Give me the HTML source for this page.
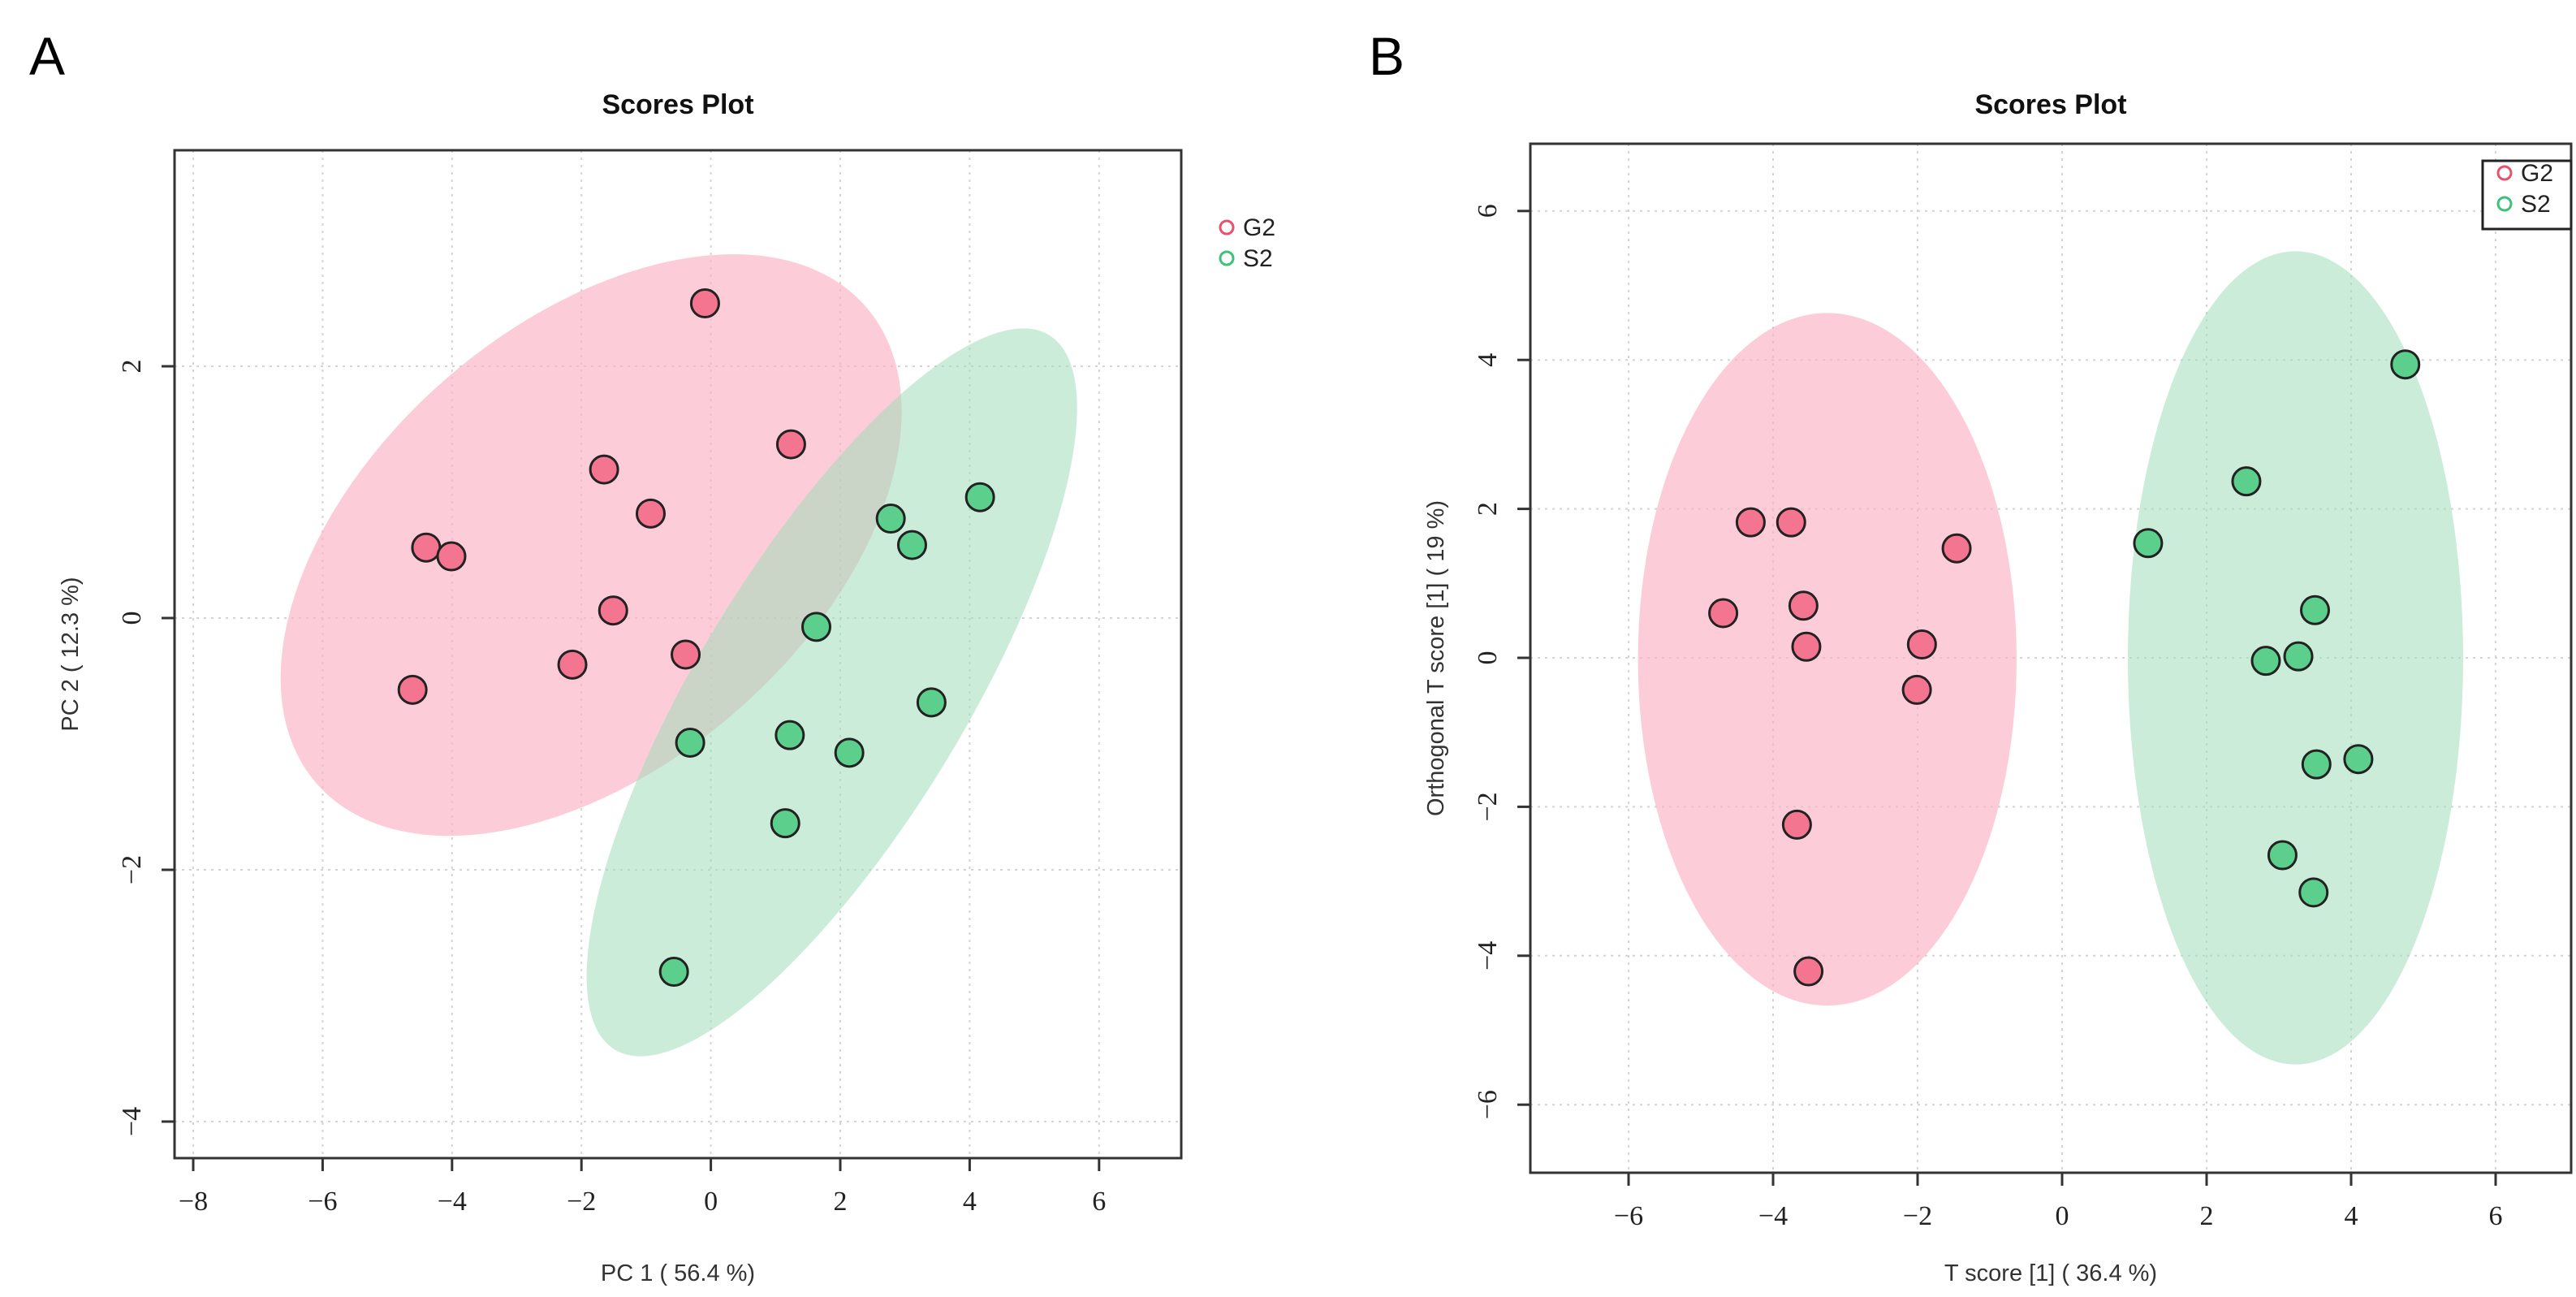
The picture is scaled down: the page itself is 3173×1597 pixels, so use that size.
<!DOCTYPE html>
<html><head><meta charset="utf-8"><style>
html,body{margin:0;padding:0;background:#fff;width:3173px;height:1597px;overflow:hidden}
svg{display:block}
</style></head><body>
<svg id="fig" width="3173" height="1597" xmlns="http://www.w3.org/2000/svg"></svg>
<script>
// ---------- Panel A data (PCA) ----------
const aXTicks = [-8,-6,-4,-2,0,2,4,6];
const aYTicks = [-4,-2,0,2];
const aG2x = [-0.09,1.24,-1.65,-0.93,-4.40,-4.01,-1.51,-2.14,-0.39,-4.61];
const aG2y = [2.50,1.38,1.18,0.83,0.56,0.49,0.06,-0.37,-0.29,-0.57];
const aS2x = [4.16,2.78,3.11,1.63,3.41,-0.32,1.22,2.14,1.15,-0.57];
const aS2y = [0.96,0.79,0.58,-0.07,-0.67,-0.99,-0.93,-1.07,-1.63,-2.81];
const aG2ell = [-1.85,0.58,5.62,3.41,-40.9]; // cx, cy, semi-major(x-units), semi-minor, angle
const aS2ell = [1.87,-0.59,6.46,2.06,-58.7];
// ---------- Panel B data (OPLS-DA) ----------
const bXTicks = [-6,-4,-2,0,2,4,6];
const bYTicks = [-6,-4,-2,0,2,4,6];
const bG2x = [-4.31,-3.75,-1.46,-4.69,-3.58,-3.54,-1.94,-2.01,-3.67,-3.51];
const bG2y = [1.82,1.82,1.47,0.60,0.70,0.15,0.18,-0.43,-2.24,-4.21];
const bS2x = [4.75,2.55,1.19,3.50,2.82,3.27,3.52,4.10,3.05,3.48];
const bS2y = [3.94,2.37,1.54,0.64,-0.04,0.02,-1.43,-1.36,-2.65,-3.15];
const bG2ell = [-3.25,-0.02,2.62,4.65];
const bS2ell = [3.23,0.0,2.32,5.46];

const NS="http://www.w3.org/2000/svg";
const svg=document.getElementById('fig');
function mk(tag,attrs,parent,text){const e=document.createElementNS(NS,tag);for(const k in attrs)e.setAttribute(k,attrs[k]);if(text!==undefined)e.textContent=text;(parent||svg).appendChild(e);return e;}
const PINK='#f4758f',GREEN='#5dcf8c',PINKE='rgba(252,176,196,0.65)',GREENE='rgba(160,220,185,0.55)';
const fmt=v=>v<0?'\u2212'+Math.abs(v):String(v);

function panel(cfg){
  const g=mk('g',{});
  
  
  const sx=v=>cfg.x0+(v-cfg.xv0)*cfg.xu;
  const sy=v=>cfg.y0-(v-cfg.yv0)*cfg.yu;
  cfg.xt.forEach(t=>{const l=mk('line',{x1:sx(t),x2:sx(t),y1:cfg.top,y2:cfg.bot,stroke:'#d4d4d4','stroke-width':2,'stroke-dasharray':'3,6'},g);
    });
  cfg.yt.forEach(t=>{const l=mk('line',{x1:cfg.left,x2:cfg.right,y1:sy(t),y2:sy(t),stroke:'#d4d4d4','stroke-width':2,'stroke-dasharray':'3,6'},g);
    });
  cfg.ells.forEach((e,i)=>{
    let el;
    if(e.length===5){
      el=mk('ellipse',{cx:sx(e[0]),cy:sy(e[1]),rx:e[2]*cfg.xu,ry:e[3]*cfg.xu,fill:cfg.efill[i],transform:`rotate(${e[4]} ${sx(e[0])} ${sy(e[1])})`},g);
    } else {
      el=mk('ellipse',{cx:sx(e[0]),cy:sy(e[1]),rx:e[2]*cfg.xu,ry:e[3]*cfg.yu,fill:cfg.efill[i]},g);
    }
    
    
  });
  cfg.series.forEach(s=>{
    s.x.forEach((v,i)=>{
      const c=mk('circle',{cx:sx(v),cy:sy(s.y[i]),r:17,fill:s.col,stroke:'#222','stroke-width':3},g);
      
      
    });
  });
  const bx=mk('rect',{x:cfg.left,y:cfg.top,width:cfg.right-cfg.left,height:cfg.bot-cfg.top,fill:'none',stroke:'#333','stroke-width':3},g);
  
  cfg.xt.forEach(t=>{mk('line',{x1:sx(t),x2:sx(t),y1:cfg.bot,y2:cfg.bot+16,stroke:'#333','stroke-width':3},g);
    const tx=mk('text',{x:sx(t),y:cfg.bot+64,'font-family':'Liberation Serif, serif','font-size':34,'text-anchor':'middle',fill:'#222'},g,fmt(t));
    });
  cfg.yt.forEach(t=>{mk('line',{x1:cfg.left,x2:cfg.left-16,y1:sy(t),y2:sy(t),stroke:'#333','stroke-width':3},g);
    const tx=mk('text',{x:0,y:0,'font-family':'Liberation Serif, serif','font-size':34,'text-anchor':'middle',fill:'#222',transform:`translate(${cfg.left-42},${sy(t)}) rotate(-90)`},g,fmt(t));
    });
  const ti=mk('text',{x:(cfg.left+cfg.right)/2,y:140,'font-family':'Liberation Sans, sans-serif','font-size':34,'font-weight':'bold','text-anchor':'middle',fill:'#111'},g,'Scores Plot');
  
  const xl=mk('text',{x:(cfg.left+cfg.right)/2,y:1577,'font-family':'Liberation Sans, sans-serif','font-size':29,'text-anchor':'middle',fill:'#333'},g,cfg.xlab);
  
  const yl=mk('text',{x:0,y:0,'font-family':'Liberation Sans, sans-serif','font-size':29,'text-anchor':'middle',fill:'#333',transform:`translate(${cfg.ylx},${(cfg.top+cfg.bot)/2}) rotate(-90)`},g,cfg.ylab);
  
  const pl=mk('text',{x:cfg.plx,y:92,'font-family':'Liberation Sans, sans-serif','font-size':66,fill:'#000'},g,cfg.pl);
  
  return g;
}

const gA=panel({name:'panel-a-pca-scores',x0:238,xv0:-8,xu:79.7,y0:761,yv0:0,yu:155,
  left:215,right:1455,top:185,bot:1426,xt:aXTicks,yt:aYTicks,ells:[aG2ell,aS2ell],efill:[PINKE,GREENE],
  series:[{x:aG2x,y:aG2y,col:PINK,nm:'g2-point'},{x:aS2x,y:aS2y,col:GREEN,nm:'s2-point'}],
  xlab:'PC 1 ( 56.4 %)',ylab:'PC 2 ( 12.3 %)',ylx:96,pl:'A',plx:36});
const gB=panel({name:'panel-b-oplsda-scores',x0:2006,xv0:-6,xu:89,y0:810,yv0:0,yu:91.7,
  left:1885,right:3167,top:177,bot:1444,xt:bXTicks,yt:bYTicks,ells:[bG2ell,bS2ell],efill:[PINKE,GREENE],
  series:[{x:bG2x,y:bG2y,col:PINK,nm:'g2-point'},{x:bS2x,y:bS2y,col:GREEN,nm:'s2-point'}],
  xlab:'T score [1] ( 36.4 %)',ylab:'Orthogonal T score [1] ( 19 %)',ylx:1778,pl:'B',plx:1686});

function legend(x,y,box){
  const g=mk('g',{});
  
  
  if(box){mk('rect',{x:box[0],y:box[1],width:box[2],height:box[3],fill:'#fff',stroke:'#222','stroke-width':3},g);}
  [['G2','#e8506e'],['S2','#3dc27a']].forEach((d,i)=>{
    const e=mk('g',{},g);
    
    
    mk('circle',{cx:x,cy:y+i*38,r:8,fill:'none',stroke:d[1],'stroke-width':3},e);
    mk('text',{x:x+20,y:y+i*38+10,'font-family':'Liberation Sans, sans-serif','font-size':30,fill:'#222'},e,d[0]);
  });
}
legend(1511,280,null);
legend(3085,213,[3058,198,109,84]);
</script>
</body></html>
